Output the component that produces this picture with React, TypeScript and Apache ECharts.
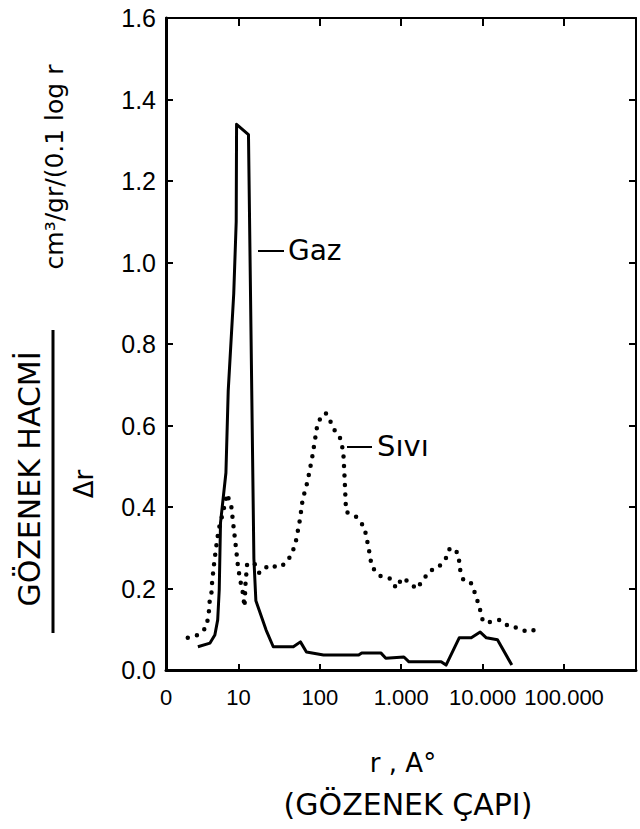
import React, { useEffect, useRef } from "react";
import * as echarts from "echarts";

// Pore radius r (Å) and ΔV/Δr values
const gazR = [3.18, 4.48, 5.14, 5.57, 5.82, 6.03, 7.03, 7.5, 8.77, 9.4, 9.5, 13.3, 15.5, 16.4, 21.9, 26.8, 47.3, 57.8, 68.5, 111, 300, 327, 561, 646, 1079, 1245, 3090, 3550, 5150, 7240, 9330, 11100, 15200, 22800];
const gazV = [0.057, 0.066, 0.086, 0.123, 0.197, 0.361, 0.484, 0.685, 0.924, 1.1, 1.339, 1.314, 0.273, 0.17, 0.098, 0.057, 0.057, 0.069, 0.044, 0.037, 0.037, 0.042, 0.042, 0.029, 0.032, 0.02, 0.02, 0.012, 0.079, 0.079, 0.093, 0.079, 0.074, 0.012];

const siviR = [2.39, 3.17, 3.97, 4.31, 4.41, 4.66, 4.76, 5.01, 5.28, 5.71, 6.37, 7.27, 8.2, 8.73, 9.31, 9.9, 10.5, 11.2, 11.9, 12.2, 12.8, 15.6, 18.1, 23.9, 30.9, 38.8, 45.9, 51.2, 57, 61.5, 70.5, 80.5, 87.3, 94.4, 118, 132, 153, 183, 195, 202, 210, 279, 352, 397, 435, 547, 730, 867, 1026, 1290, 1530, 1860, 2210, 2840, 3550, 3970, 5000, 5320, 5800, 7100, 8220, 9530, 10100, 12700, 16400, 21200, 28200, 35400, 48400];
const siviV = [0.079, 0.086, 0.103, 0.133, 0.165, 0.187, 0.216, 0.258, 0.295, 0.344, 0.381, 0.432, 0.4, 0.351, 0.302, 0.253, 0.221, 0.197, 0.155, 0.209, 0.26, 0.263, 0.238, 0.258, 0.251, 0.263, 0.287, 0.319, 0.369, 0.418, 0.462, 0.521, 0.565, 0.609, 0.631, 0.614, 0.587, 0.565, 0.528, 0.467, 0.388, 0.376, 0.351, 0.3, 0.253, 0.231, 0.224, 0.201, 0.226, 0.214, 0.199, 0.221, 0.243, 0.251, 0.275, 0.3, 0.287, 0.243, 0.221, 0.216, 0.184, 0.14, 0.118, 0.118, 0.123, 0.106, 0.103, 0.093, 0.101];

// x axis: decades (log10 r)
const xMinExp = 0.111;
const xMaxExp = 5.883;
const xTickExps = [1, 2, 3, 4, 5];
const xTickLabels = ["10", "100", "1.000", "10.000", "100.000"];
const xZeroLabel = "0";

const yMin = 0;
const yMax = 1.6;
const yStep = 0.2;

const TICK_FONT = "'Liberation Sans', Arial, sans-serif";
const TEXT_FONT = "'DejaVu Sans', sans-serif";

export default function App() {
  const ref = useRef<HTMLDivElement>(null);

  useEffect(() => {
    document.body.style.margin = "0";
    if (!ref.current) return;
    const chart = echarts.init(ref.current, undefined, { renderer: "svg" });

    const toPairs = (rs: number[], vs: number[]) =>
      rs.map((r, i) => [Math.log10(r), vs[i]]);

    const xLabelFor = (v: number) => {
      if (Math.abs(v - xMinExp) < 1e-6) return xZeroLabel;
      const idx = xTickExps.findIndex((e) => Math.abs(e - v) < 1e-6);
      return idx >= 0 ? xTickLabels[idx] : "";
    };

    const txt = (
      text: string,
      x: number,
      y: number,
      size: number,
      opts: any = {}
    ) => ({
      type: "text",
      x,
      y,
      rotation: opts.rotation || 0,
      style: {
        text,
        fill: "#000",
        fontSize: size,
        fontFamily: TEXT_FONT,
        align: opts.align || "center",
        verticalAlign: "middle",
        textAlign: opts.align || "center",
        textVerticalAlign: "middle",
      },
    });

    chart.setOption({
      animation: false,
      backgroundColor: "#fff",
      grid: { left: 166, right: 4, top: 18, bottom: 159, containLabel: false },
      xAxis: [
        {
          type: "value",
          min: xMinExp,
          max: xMaxExp,
          position: "bottom",
          axisLine: { show: true, onZero: false, lineStyle: { color: "#000", width: 3 } },
          axisTick: {
            show: true,
            inside: true,
            length: 6,
            customValues: xTickExps,
            lineStyle: { color: "#000", width: 2 },
          },
          axisLabel: {
            show: true,
            customValues: [xMinExp, ...xTickExps],
            formatter: (v: number) => xLabelFor(v),
            color: "#000",
            fontSize: 22,
            fontFamily: TICK_FONT,
            margin: 16,
            hideOverlap: false,
          },
          splitLine: { show: false },
        },
        {
          type: "value",
          min: xMinExp,
          max: xMaxExp,
          position: "top",
          axisLine: { show: true, onZero: false, lineStyle: { color: "#000", width: 2 } },
          axisTick: {
            show: true,
            inside: true,
            length: 8,
            customValues: xTickExps,
            lineStyle: { color: "#000", width: 2 },
          },
          axisLabel: { show: false },
          splitLine: { show: false },
        },
      ],
      yAxis: [
        {
          type: "value",
          min: yMin,
          max: yMax,
          interval: yStep,
          position: "left",
          axisLine: { show: true, onZero: false, lineStyle: { color: "#000", width: 3 } },
          axisTick: { show: true, inside: true, length: 7, lineStyle: { color: "#000", width: 2 } },
          axisLabel: {
            color: "#000",
            fontSize: 25,
            fontFamily: TICK_FONT,
            margin: 10,
            formatter: (v: number) => v.toFixed(1),
          },
          splitLine: { show: false },
        },
        {
          type: "value",
          min: yMin,
          max: yMax,
          interval: yStep,
          position: "right",
          axisLine: { show: true, onZero: false, lineStyle: { color: "#000", width: 2 } },
          axisTick: { show: true, inside: true, length: 7, lineStyle: { color: "#000", width: 2 } },
          axisLabel: { show: false },
          splitLine: { show: false },
        },
      ],
      series: [
        {
          name: "Gaz",
          type: "line",
          xAxisIndex: 0,
          yAxisIndex: 0,
          data: toPairs(gazR, gazV),
          symbol: "none",
          lineStyle: { color: "#000", width: 3, join: "round" },
          z: 3,
        },
        {
          name: "Sıvı",
          type: "line",
          xAxisIndex: 0,
          yAxisIndex: 0,
          data: toPairs(siviR, siviV),
          symbol: "none",
          lineStyle: { color: "#000", width: 4.5, type: [0, 9.5], cap: "round" },
          z: 2,
        },
      ],
      graphic: [
        // Y axis title: fraction  GÖZENEK HACMİ / Δr  and unit
        txt("GÖZENEK HACMİ", 29, 479, 30, { rotation: Math.PI / 2 }),
        {
          type: "line",
          shape: { x1: 53, y1: 330, x2: 53, y2: 633 },
          style: { stroke: "#000", lineWidth: 3 },
        },
        txt("Δr", 84, 484, 26, { rotation: Math.PI / 2 }),
        txt("cm³/gr/(0.1 log r", 54, 167, 25, { rotation: Math.PI / 2 }),
        // X axis title
        txt("r , A°", 403, 763, 26),
        txt("(GÖZENEK ÇAPI)", 408, 804, 30),
        // Curve labels
        {
          type: "line",
          shape: { x1: 258, y1: 251, x2: 284, y2: 251 },
          style: { stroke: "#000", lineWidth: 2 },
        },
        txt("Gaz", 288, 250, 28, { align: "left" }),
        {
          type: "line",
          shape: { x1: 347, y1: 447, x2: 372, y2: 447 },
          style: { stroke: "#000", lineWidth: 2 },
        },
        txt("Sıvı", 377, 446, 29, { align: "left" }),
      ],
    });

    return () => chart.dispose();
  }, []);

  return <div ref={ref} style={{ width: 640, height: 829, background: "#fff" }} />;
}
